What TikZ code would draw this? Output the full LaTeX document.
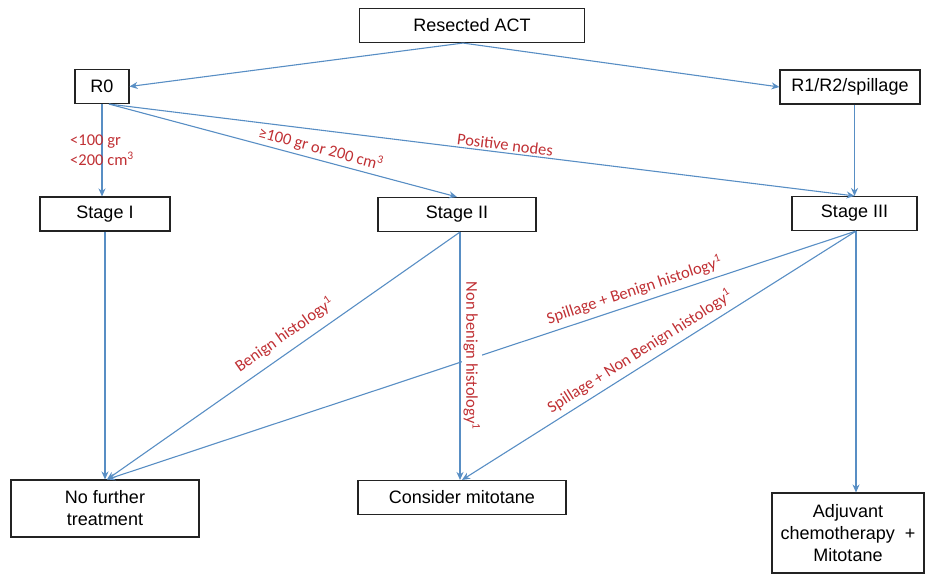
\documentclass[tikz,border=0pt]{standalone}
\usepackage{fontspec}
\setmainfont{Liberation Sans}
\newfontfamily\etqfont{Carlito}
\usepackage{tikz}
\usetikzlibrary{arrows.meta,positioning}
\usepackage{xcolor}
\definecolor{flAzul}{RGB}{88,142,196}
\definecolor{etRojo}{RGB}{192,48,52}
\definecolor{cajaNegro}{RGB}{35,35,35}

\begin{document}
\begin{tikzpicture}[x=1pt, y=-1pt,
     caja/.style={rectangle, draw=cajaNegro, line width=1.1pt, fill=white,
                  align=center, minimum height=34pt, inner sep=2pt,
                  font=\fontsize{18}{22}\selectfont},
     fl/.style={-{Stealth[length=8pt, width=7pt]}, flAzul, line width=1.1pt},
     etq/.style={text=etRojo, inner sep=2pt,
                 font=\etqfont\fontsize{16.5}{20}\selectfont}]
    \useasboundingbox (0,0) rectangle (925,574);
    % cajas
    \node[caja, minimum width=225pt] (rac) at (472,25.5) {Resected ACT};
    \node[caja, minimum width=54pt] (r0) at (102,86.5) {R0};
    \node[caja, minimum width=140pt] (r12) at (850,87) {R1/R2/spillage};
    \node[caja, minimum width=130pt] (s1) at (105,214) {Stage I};
    \node[caja, minimum width=158pt] (s2) at (457,214.5) {Stage II};
    \node[caja, minimum width=125pt] (s3) at (854.5,213.5) {Stage III};
    \node[caja, minimum width=188pt, minimum height=57pt] (nft) at (105,508.5) {No further\\ treatment};
    \node[caja, minimum width=208pt] (cm) at (462,497.5) {Consider mitotane};
    \node[caja, minimum width=152pt, minimum height=80pt] (adj) at (848,533) {Adjuvant\\ chemotherapy~~+\\ Mitotane};
    % puntos de salida
    \coordinate (racO) at ([xshift=-9pt]rac.south);
    \coordinate (r0O) at ([xshift=7pt]r0.south);
    \coordinate (s2O) at ([xshift=3pt]s2.south);
    \coordinate (s3O) at ([xshift=1.5pt]s3.south);
    \coordinate (nftE) at ([xshift=2pt]nft.north);
    % flechas
    \draw[fl] (racO) -- (r0.east);
    \draw[fl] (racO) -- (r12.west);
    \draw[fl] (r0.south) -- (r0.south |- s1.north)
        node[etq, midway, align=left] {<100 gr\\ <200 cm\textsuperscript{3}};
    \draw[fl] (r0O) -- (s2.north)
        node[etq, pos=0.6, sloped, above=1pt] {≥100 gr or 200 cm\textsuperscript{3}};
    \draw[fl] (r0O) -- (s3.north)
        node[etq, pos=0.53, sloped, above] {Positive nodes};
    \draw[fl] (s3.north |- r12.south) -- (s3.north);
    \draw[fl] (s1.south) -- (s1.south |- nft.north);
    \draw[fl] (s2O) -- (nftE)
        node[etq, pos=0.47, sloped, above=6pt] {Benign histology\textsuperscript{1}};
    \draw[fl] (s3O) -- (nftE)
        node[etq, pos=0.29, sloped, above=3pt] {Spillage + Benign histology\textsuperscript{1}};
    \draw[fl] (s3O) -- (cm.north)
        node[etq, pos=0.53, sloped, above=3pt] {Spillage + Non Benign histology\textsuperscript{1}};
    \draw[fl] (s3O) -- (s3O |- adj.north);
    \draw[fl] (s2O) -- (s2O |- cm.north)
        node[etq, midway, sloped, above=1pt, fill=white] {Non benign histology\textsuperscript{1}};
  \end{tikzpicture}
\end{document}
